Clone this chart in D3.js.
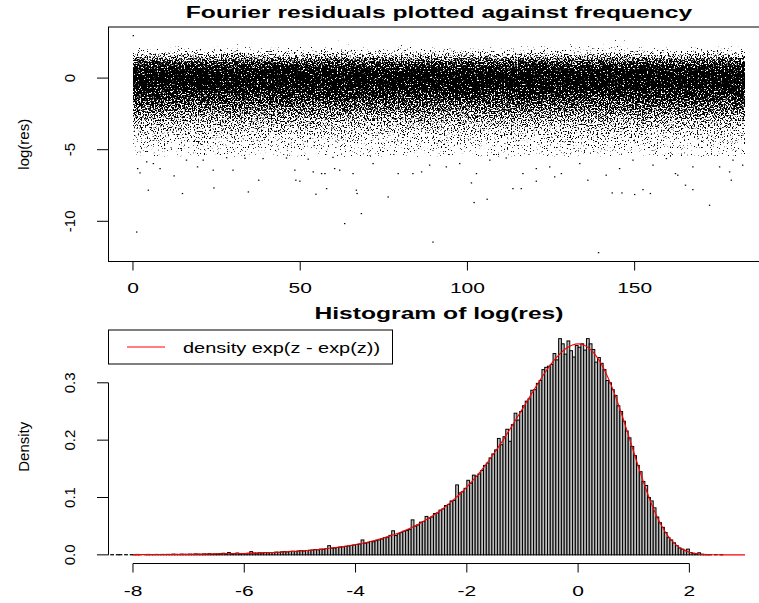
<!DOCTYPE html>
<html>
<head>
<meta charset="utf-8">
<script src="https://d3js.org/d3.v7.min.js"></script>
<style>
  body { margin: 0; background: #fff; }
  svg { display: block; }
  text { font-family: "Liberation Sans", Arial, Helvetica, sans-serif; fill: #000; }
</style>
</head>
<body>
<svg width="759" height="603"></svg>
<script>
// ---- data ----
// top panel: frequency range of the residual cloud and its estimated point count
var freqRange = [0, 183];
var resRange = [-12.2, 2.96];
var pointCount = 50000;
// isolated points of the cloud (frequency, log(res)) below about -5.5 and the top one
var outlierFreq = [0.1, 1.1, 4.6, 14.8, 24.2, 34.5, 37.6, 12.3, 1.4, 2.1, 8.1, 19.3, 29.9, 48.4, 48.7, 49.9,
  54.7, 53.9, 56.4, 57.4, 57.9, 60.3, 61.8, 63.3, 66.8, 67.0, 68.3, 65.8, 24.0, 4.1, 6.1, 16.0, 21.0,
  28.0, 33.5, 38.9, 45.9, 52.4, 59.8, 71.8, 89.7, 139.2, 102.0, 105.9, 76.3, 172.4, 143.3, 146.2, 150.0,
  152.5, 154.7, 165.2, 167.4, 178.9, 113.6, 116.1, 101.2, 120.6, 126.1, 136.0, 141.5, 128.1, 162.9, 162.2,
  182.3, 178.4, 175.4, 155.5, 102.7, 83.7, 86.3, 79.3, 88.7, 93.7, 97.7, 106.7, 116.6, 120.6, 124.6, 133.6,
  145.5, 167.4, 179.4, 111.6, 149.5, 159.5];
var outlierRes = [2.96, -10.75, -7.83, -8.06, -7.67, -7.95, -7.13, -6.83, -6.32, -6.62, -6.32, -6.2, -6.43, -6.43, -7.13, -7.2,
  -8.11, -6.55, -6.67, -6.67, -7.72, -6.32, -6.43, -10.16, -7.83, -8.06, -9.46, -6.67, -6.43, -5.85, -5.97, -5.73, -5.73,
  -5.56, -5.6, -5.62, -5.58, -5.66, -5.54, -5.97, -11.45, -12.19, -8.69, -8.46, -8.3, -8.88, -8.02, -8.02, -8.13,
  -7.79, -8.06, -7.48, -7.79, -7.13, -7.72, -7.72, -7.32, -7.2, -6.9, -7.13, -6.78, -6.67, -6.78, -6.67,
  -6.08, -6.55, -6.2, -6.08, -6.67, -6.67, -6.55, -6.67, -6.08, -6.2, -5.97, -5.73, -6.67, -6.32, -6.2, -5.97,
  -6.32, -6.2, -5.73, -5.58, -5.73, -5.62];
var topXTicks = [0, 50, 100, 150];
var topYTicks = [-10, -5, 0];

// bottom panel: histogram of log(res), breaks every 0.05 starting at -8.5
var histStart = -8.5;
var histWidth = 0.05;
var histDensity = [
  0.0004, 0.0000, 0.0004, 0.0000, 0.0004, 0.0004, 0.0000, 0.0004, 0.0000, 0.0004,
  0.0004, 0.0008, 0.0004, 0.0000, 0.0004, 0.0008, 0.0004, 0.0004, 0.0008, 0.0004,
  0.0008, 0.0004, 0.0008, 0.0004, 0.0012, 0.0008, 0.0004, 0.0012, 0.0008, 0.0008,
  0.0012, 0.0008, 0.0016, 0.0012, 0.0008, 0.0016, 0.0012, 0.0020, 0.0012, 0.0016,
  0.0016, 0.0020, 0.0028, 0.0016, 0.0040, 0.0020, 0.0024, 0.0032, 0.0020, 0.0024,
  0.0024, 0.0028, 0.0056, 0.0032, 0.0028, 0.0036, 0.0032, 0.0040, 0.0036, 0.0040,
  0.0040, 0.0048, 0.0044, 0.0052, 0.0056, 0.0052, 0.0060, 0.0064, 0.0060, 0.0068,
  0.0072, 0.0068, 0.0076, 0.0080, 0.0084, 0.0092, 0.0088, 0.0100, 0.0096, 0.0108,
  0.0160, 0.0116, 0.0120, 0.0128, 0.0136, 0.0140, 0.0148, 0.0156, 0.0164, 0.0172,
  0.0180, 0.0188, 0.0260, 0.0204, 0.0212, 0.0232, 0.0228, 0.0248, 0.0260, 0.0276,
  0.0300, 0.0308, 0.0340, 0.0420, 0.0336, 0.0368, 0.0388, 0.0412, 0.0424, 0.0440,
  0.0610, 0.0500, 0.0520, 0.0570, 0.0580, 0.0670, 0.0640, 0.0660, 0.0720, 0.0730,
  0.0780, 0.0800, 0.0860, 0.0880, 0.0940, 0.0950, 0.1220, 0.1080, 0.1100, 0.1160,
  0.1300, 0.1250, 0.1390, 0.1370, 0.1410, 0.1470, 0.1560, 0.1600, 0.1690, 0.1760,
  0.1830, 0.2030, 0.1920, 0.2060, 0.2190, 0.1980, 0.2270, 0.2470, 0.2350, 0.2500,
  0.2600, 0.2680, 0.2720, 0.2870, 0.2880, 0.2990, 0.3040, 0.3230, 0.3270, 0.3290,
  0.3320, 0.3510, 0.3400, 0.3770, 0.3680, 0.3500, 0.3730, 0.3560, 0.3450, 0.3650,
  0.3620, 0.3680, 0.3570, 0.3770, 0.3680, 0.3580, 0.3360, 0.3440, 0.3340, 0.3230,
  0.3040, 0.3000, 0.2880, 0.2780, 0.2600, 0.2500, 0.2330, 0.2160, 0.2040, 0.1890,
  0.1730, 0.1560, 0.1450, 0.1280, 0.1210, 0.1000, 0.0940, 0.0820, 0.0660, 0.0560,
  0.0480, 0.0390, 0.0300, 0.0260, 0.0210, 0.0160, 0.0120, 0.0100, 0.0080, 0.0100,
  0.0040, 0.0028, 0.0020, 0.0036, 0.0012, 0.0008, 0.0004, 0.0004, 0.0000, 0.0004,
  0.0000, 0.0004
];
// red density curve exp(z - exp(z))
var curveZ = [-8, -7.5, -7, -6.5, -6, -5.5, -5, -4.75, -4.5, -4.25, -4, -3.75, -3.5, -3.25,
  -3, -2.9, -2.8, -2.7, -2.6, -2.5, -2.4, -2.3, -2.2, -2.1, -2, -1.9, -1.8, -1.7, -1.6, -1.5,
  -1.4, -1.3, -1.2, -1.1, -1, -0.9, -0.8, -0.7, -0.6, -0.5, -0.4, -0.3, -0.2, -0.1, 0,
  0.1, 0.2, 0.3, 0.4, 0.5, 0.6, 0.7, 0.8, 0.9, 1, 1.1, 1.2, 1.3, 1.4, 1.5, 1.6, 1.7, 1.8, 1.9,
  2, 2.1, 2.2, 2.3, 2.4, 2.5, 2.6, 2.8, 3];
var curveD = [0.00034, 0.00055, 0.00091, 0.0015, 0.00247, 0.00407, 0.0067, 0.00859, 0.0110, 0.01406, 0.0180, 0.0230, 0.0293, 0.0373,
  0.04736, 0.0521, 0.0572, 0.0628, 0.0690, 0.0756, 0.0828, 0.0907, 0.0992, 0.1083, 0.1182, 0.1288, 0.1401, 0.1522, 0.1650, 0.1785,
  0.1927, 0.2075, 0.2229, 0.2386, 0.2546, 0.2707, 0.2867, 0.3022, 0.3170, 0.3307, 0.3429, 0.3532, 0.3611, 0.3661, 0.3679,
  0.3660, 0.3601, 0.3500, 0.3356, 0.3170, 0.2946, 0.2688, 0.2404, 0.2102, 0.1794, 0.1489, 0.1200, 0.0935, 0.0703, 0.0507, 0.0350, 0.0230, 0.0143, 0.00835,
  0.00457, 0.00232, 0.00109, 0.000465, 0.00018, 0.00006, 0.00002, 0, 0];
var botXRange = [-8, 3];
var botXTicks = [-8, -6, -4, -2, 0, 2];
var botYTicks = [0, 0.1, 0.2, 0.3];

// ---- helpers ----
function padded(lo, hi) { var p = (hi - lo) * 0.04; return [lo - p, hi + p]; }
function probit(p) {
  if (p <= 0) return -Infinity;
  if (p >= 1) return Infinity;
  var x = 2 * p - 1, a = 0.147, ln = Math.log(1 - x * x), t = 2 / (Math.PI * a) + ln / 2;
  return Math.SQRT2 * Math.sign(x) * Math.sqrt(Math.sqrt(t * t - ln / a) - t);
}
function hText(g, x, y, str, size, anchor, sx, bold) {
  g.append("text")
    .attr("transform", "translate(" + x + "," + y + ") scale(" + sx + ",1)")
    .attr("text-anchor", anchor)
    .attr("font-size", size)
    .attr("font-weight", bold ? "bold" : "normal")
    .text(str);
}
function vText(g, x, y, str, size) {
  g.append("text")
    .attr("transform", "translate(" + x + "," + y + ") rotate(-90)")
    .attr("text-anchor", "middle")
    .attr("font-size", size)
    .text(str);
}

var svg = d3.select("svg");
var left = 108.5, right = 769.5;
var defs = svg.append("defs");

// ================= top panel =================
var top1 = 27, bot1 = 261.5;
var x1 = d3.scaleLinear().domain(padded(freqRange[0], freqRange[1])).range([left, right]);
var y1 = d3.scaleLinear().domain(padded(resRange[0], resRange[1])).range([bot1, top1]);

// dense part of the cloud: its vertical profile follows the histogram of the same values
var cloudTop = 2.65, cloudBottom = -5.5;
var pxPerUnit = y1(0) - y1(1);
var widthPx = x1(freqRange[1]) - x1(freqRange[0]);
var dotArea = 1.4, sigma = 0.12;
var gy0 = y1(cloudTop), gy1 = y1(cloudBottom);
var grad = defs.append("linearGradient").attr("id", "cloud")
  .attr("gradientUnits", "userSpaceOnUse")
  .attr("x1", 0).attr("x2", 0).attr("y1", gy0).attr("y2", gy1);
var stops = [];
histDensity.forEach(function(d, i) {
  var zc = histStart + histWidth * (i + 0.5);
  if (zc < cloudBottom || zc > cloudTop) return;
  var lambda = pointCount * d * dotArea / pxPerUnit / widthPx;
  var cover = 1 - Math.exp(-lambda);
  var level = Math.max(0, Math.min(1, 0.5 + sigma * probit(cover)));
  stops.push({ off: (y1(zc) - gy0) / (gy1 - gy0), level: level });
});
stops.sort(function(a, b) { return a.off - b.off; });
grad.selectAll("stop").data(stops).enter().append("stop")
  .attr("offset", function(d) { return Math.max(0, Math.min(1, d.off)); })
  .attr("stop-color", "#000")
  .attr("stop-opacity", function(d) { return d.level; });

var filt = defs.append("filter").attr("id", "stipple")
  .attr("filterUnits", "userSpaceOnUse")
  .attr("x", x1(freqRange[0]) - 2).attr("y", gy0 - 2)
  .attr("width", widthPx + 4).attr("height", gy1 - gy0 + 4)
  .attr("color-interpolation-filters", "sRGB");
filt.append("feTurbulence").attr("type", "fractalNoise").attr("baseFrequency", 0.7)
  .attr("numOctaves", 2).attr("seed", 5).attr("result", "noise");
filt.append("feComposite").attr("in", "SourceAlpha").attr("in2", "noise")
  .attr("operator", "arithmetic").attr("k1", 0).attr("k2", 12).attr("k3", -12).attr("k4", 0.5)
  .attr("result", "th");
filt.append("feColorMatrix").attr("in", "th").attr("type", "matrix")
  .attr("values", "0 0 0 0 0  0 0 0 0 0  0 0 0 0 0  0 0 0 1 0");

svg.append("rect")
  .attr("x", x1(freqRange[0])).attr("y", gy0)
  .attr("width", widthPx).attr("height", gy1 - gy0)
  .attr("fill", "url(#cloud)")
  .attr("filter", "url(#stipple)");

// isolated points
svg.append("g").selectAll("rect").data(outlierFreq).enter().append("rect")
  .attr("x", function(d) { return x1(d) - 0.7; })
  .attr("y", function(d, i) { return y1(outlierRes[i]) - 0.6; })
  .attr("width", 1.4).attr("height", 1.2)
  .attr("fill", "#000");

// box and axes
svg.append("rect").attr("x", left).attr("y", top1).attr("width", right - left).attr("height", bot1 - top1)
  .attr("fill", "none").attr("stroke", "#000").attr("stroke-width", 1);
var ax1 = svg.append("g");
topXTicks.forEach(function(t) {
  ax1.append("line").attr("x1", x1(t)).attr("x2", x1(t)).attr("y1", bot1).attr("y2", bot1 + 9).attr("stroke", "#000");
  hText(ax1, x1(t), bot1 + 31.5, t, 15, "middle", 1.4);
});
topYTicks.forEach(function(t) {
  ax1.append("line").attr("x1", left - 11.5).attr("x2", left).attr("y1", y1(t)).attr("y2", y1(t)).attr("stroke", "#000");
  vText(ax1, 75, y1(t), t, 15);
});
vText(ax1, 29, (top1 + bot1) / 2, "log(res)", 15);
hText(ax1, (left + right) / 2, 17.5, "Fourier residuals plotted against frequency", 17, "middle", 1.45, true);

// ================= bottom panel =================
var top2 = 330, bot2 = 563.5;
var x2 = d3.scaleLinear().domain(padded(botXRange[0], botXRange[1])).range([left, right]);
var y2 = d3.scaleLinear().domain(padded(0, d3.max(histDensity))).range([bot2, top2]);

defs.append("clipPath").attr("id", "plot2").append("rect")
  .attr("x", left).attr("y", top2 - 5).attr("width", right - left).attr("height", bot2 - top2 + 5);

var bars = svg.append("g").attr("clip-path", "url(#plot2)");
bars.selectAll("rect").data(histDensity).enter().append("rect")
  .attr("x", function(d, i) { return x2(histStart + histWidth * i); })
  .attr("width", x2(histWidth) - x2(0))
  .attr("y", function(d) { return y2(d); })
  .attr("height", function(d) { return y2(0) - y2(d); })
  .attr("fill", "#bebebe")
  .attr("stroke", "#000")
  .attr("stroke-width", 1);

var line = d3.line()
  .x(function(d) { return x2(d); })
  .y(function(d, i) { return y2(curveD[i]); })
  .curve(d3.curveMonotoneX);
svg.append("path").datum(curveZ).attr("d", line)
  .attr("fill", "none").attr("stroke", "red").attr("stroke-width", 1.1)
  .attr("clip-path", "url(#plot2)");

var ax2 = svg.append("g");
ax2.append("line").attr("x1", x2(botXTicks[0])).attr("x2", x2(botXTicks[botXTicks.length - 1]))
  .attr("y1", bot2).attr("y2", bot2).attr("stroke", "#000");
botXTicks.forEach(function(t) {
  ax2.append("line").attr("x1", x2(t)).attr("x2", x2(t)).attr("y1", bot2).attr("y2", bot2 + 9).attr("stroke", "#000");
  hText(ax2, x2(t), bot2 + 32.5, t, 15, "middle", 1.4);
});
ax2.append("line").attr("x1", left).attr("x2", left)
  .attr("y1", y2(botYTicks[0])).attr("y2", y2(botYTicks[botYTicks.length - 1])).attr("stroke", "#000");
botYTicks.forEach(function(t) {
  ax2.append("line").attr("x1", left - 11.5).attr("x2", left).attr("y1", y2(t)).attr("y2", y2(t)).attr("stroke", "#000");
  vText(ax2, 75, y2(t), d3.format(".1f")(t), 15);
});
vText(ax2, 29, (top2 + bot2) / 2, "Density", 15);
hText(ax2, (left + right) / 2, 319.3, "Histogram of log(res)", 17, "middle", 1.45, true);

// legend
var lg = svg.append("g");
lg.append("rect").attr("x", left).attr("y", top2).attr("width", 284).attr("height", 34)
  .attr("fill", "#fff").attr("stroke", "#000");
lg.append("line").attr("x1", 127).attr("x2", 165).attr("y1", top2 + 17).attr("y2", top2 + 17)
  .attr("stroke", "red");
hText(lg, 183, top2 + 22.5, "density exp(z - exp(z))", 15, "start", 1.33);
</script>
</body>
</html>
